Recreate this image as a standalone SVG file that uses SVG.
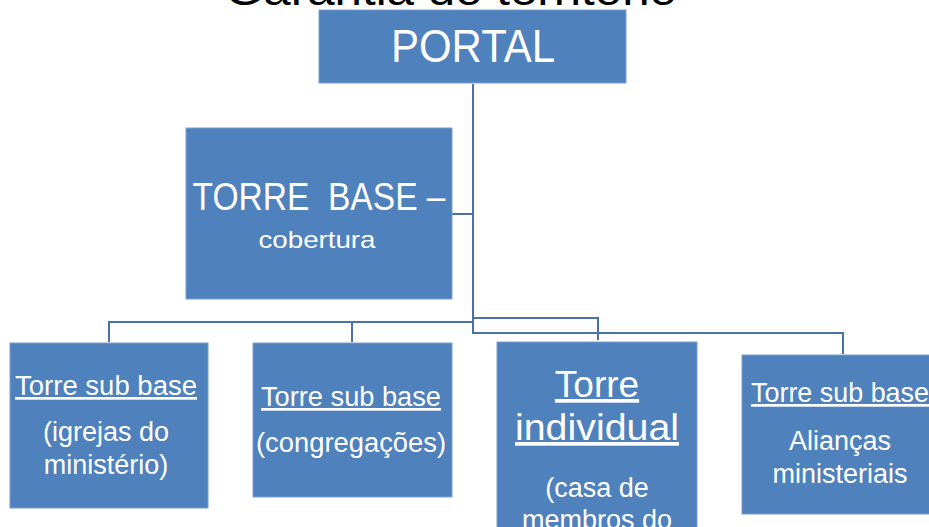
<svg xmlns="http://www.w3.org/2000/svg" width="929" height="527" viewBox="0 0 929 527">
<style>
.box{fill:#4F81BD;stroke:#7A9FD0;stroke-width:1}
.t{fill:#FFFFFF;font-family:"Liberation Sans",Arial,sans-serif;text-anchor:middle}
.u{text-decoration:underline}
.c{fill:none;stroke:#4A72A8;stroke-width:2}
</style>
<rect width="929" height="527" fill="#FFFFFF"/>
<text x="451" y="5" font-family="Liberation Sans,Arial,sans-serif" font-size="44" fill="#000000" text-anchor="middle" textLength="452" lengthAdjust="spacingAndGlyphs">Garantia do território</text>
<g id="connectors">
<polyline class="c" points="473,84 473,322 109,322 109,342"/>
<line class="c" x1="352" y1="322" x2="352" y2="342"/>
<line class="c" x1="452" y1="214" x2="473" y2="214"/>
<polyline class="c" points="473,318 598,318 598,340"/>
<polyline class="c" points="473,322 473,333 843,333 843,354"/>
</g>
<g id="portal">
<rect class="box" x="319" y="10" width="307" height="73"/>
<text class="t" x="473" y="62" font-size="47" textLength="164" lengthAdjust="spacingAndGlyphs">PORTAL</text>
</g>
<g id="torre-base">
<rect class="box" x="186" y="128" width="266" height="171"/>
<text class="t" x="319" y="210" font-size="39" textLength="253" lengthAdjust="spacingAndGlyphs" style="white-space:pre">TORRE  BASE –</text>
<text class="t" x="317" y="248" font-size="24" textLength="117" lengthAdjust="spacingAndGlyphs">cobertura</text>
</g>
<g id="sub-base-igrejas">
<rect class="box" x="10" y="343" width="198" height="165"/>
<text class="t u" x="106" y="395" font-size="27" textLength="182" lengthAdjust="spacingAndGlyphs">Torre sub base</text>
<text class="t" x="106" y="441" font-size="27">(igrejas do</text>
<text class="t" x="106" y="474" font-size="27">ministério)</text>
</g>
<g id="sub-base-congregacoes">
<rect class="box" x="253" y="343" width="199" height="154"/>
<text class="t u" x="351" y="406" font-size="27" textLength="180" lengthAdjust="spacingAndGlyphs">Torre sub base</text>
<text class="t" x="351" y="452" font-size="27" textLength="190" lengthAdjust="spacingAndGlyphs">(congregações)</text>
</g>
<g id="torre-individual">
<rect class="box" x="497" y="342" width="200" height="200"/>
<text class="t u" x="597" y="397" font-size="37">Torre</text>
<text class="t u" x="597" y="440" font-size="37" textLength="164" lengthAdjust="spacingAndGlyphs">individual</text>
<text class="t" x="597" y="497" font-size="27">(casa de</text>
<text class="t" x="597" y="529" font-size="27">membros do</text>
</g>
<g id="sub-base-aliancas">
<rect class="box" x="742" y="355" width="196" height="159"/>
<text class="t u" x="840" y="402" font-size="27" textLength="178" lengthAdjust="spacingAndGlyphs">Torre sub base</text>
<text class="t" x="840" y="450" font-size="27">Alianças</text>
<text class="t" x="840" y="483" font-size="27">ministeriais</text>
</g>
</svg>
